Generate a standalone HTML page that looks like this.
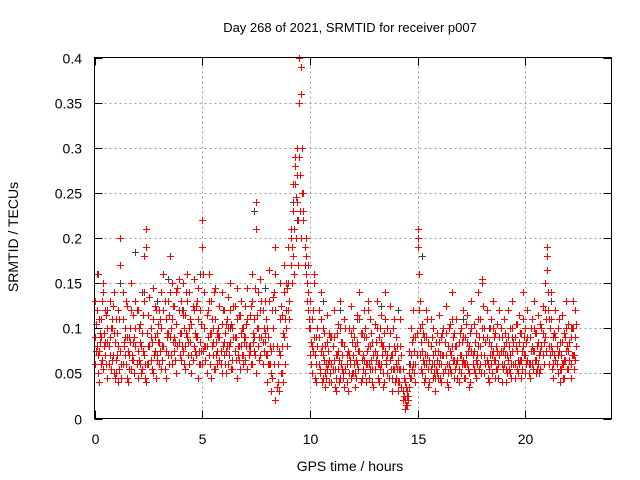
<!DOCTYPE html>
<html><head><meta charset="utf-8"><style>
body{margin:0;background:#fff;}
svg{display:block;font-family:"Liberation Sans",sans-serif;}
</style></head><body>
<svg id="chart" width="640" height="480" viewBox="0 0 640 480">
<rect width="640" height="480" fill="#fff"/>
<text x="350" y="32" font-size="13" text-anchor="middle">Day 268 of 2021, SRMTID for receiver p007</text>
<text x="350" y="471" font-size="14" text-anchor="middle">GPS time / hours</text>
<text transform="translate(18,237) rotate(-90)" font-size="14" text-anchor="middle">SRMTID / TECUs</text>
<g id="grid"></g>
<g id="ticks"></g>
<g id="marks"></g>
<rect x="94.5" y="57.5" width="517" height="361" fill="none" stroke="#000" stroke-width="1"/>
</svg>
<script>
const xTicks=[0,5,10,15,20];
const yTicks=[0,0.05,0.1,0.15,0.2,0.25,0.3,0.35,0.4];
const yTickLabels=["0","0.05","0.1","0.15","0.2","0.25","0.3","0.35","0.4"];
const startHour=0, stepHours=0.1, offsetHours=0.05;
// values in milli-TECU
const seriesMid=[90,120,75,60,140,85,100,70,110,95,65,80,200,110,70,90,55,120,85,100,75,60,95,130,210,80,65,110,90,70,85,100,120,75,95,140,110,90,105,120,95,115,80,130,100,70,120,90,110,85,220,100,80,130,95,70,110,60,90,105,85,75,100,120,65,90,110,80,95,70,90,110,80,130,75,240,100,120,85,95,70,130,50,100,160,40,110,80,140,120,150,170,230,280,300,400,360,250,180,140,100,80,150,60,90,110,70,50,85,65,60,90,45,75,100,55,80,40,70,95,70,50,85,110,65,90,60,120,80,55,75,100,60,85,50,110,70,95,45,80,60,40,80,30,20,15,50,70,90,60,210,100,75,60,90,55,80,70,45,65,85,60,70,95,50,75,110,65,80,55,70,90,60,85,50,100,75,65,110,80,150,70,90,55,80,100,65,75,90,60,80,55,90,70,100,60,75,85,65,110,70,90,60,80,100,65,85,75,95,120,190,80,110,60,90,70,55,85,65,100,75,60,100,90];
const seriesLow=[60,80,40,110,55,70,45,90,65,50,50,40,75,60,90,45,70,55,65,80,45,85,55,70,40,60,90,50,75,65,60,55,80,45,70,90,60,75,50,85,65,75,55,90,60,50,80,70,45,60,60,80,50,70,45,85,55,75,65,50,70,50,60,85,55,75,45,65,80,60,65,55,75,60,90,50,80,70,60,85,40,60,30,80,20,60,70,50,90,100,120,200,180,260,240,290,200,220,160,120,70,50,90,40,60,75,45,35,55,40,40,65,30,55,45,70,35,60,50,45,50,35,60,75,45,65,40,80,55,40,55,70,40,60,35,75,50,65,30,55,45,30,55,20,10,30,35,45,60,40,190,70,50,40,60,35,55,45,30,50,60,40,50,70,35,55,80,45,60,40,50,65,45,60,35,75,55,45,80,60,100,50,65,40,60,75,45,55,70,40,60,40,65,50,75,45,55,60,45,80,50,65,45,60,75,50,60,55,70,90,165,60,80,45,65,50,40,60,45,75,55,45,70,65];
const seriesHigh=[130,160,110,90,150,120,85,130,100,140,110,120,170,140,100,125,90,150,115,130,120,105,140,180,190,115,100,145,125,95,120,140,160,110,130,180,150,125,140,155,130,150,115,160,140,105,155,125,145,120,190,140,115,160,130,100,145,95,125,140,120,105,135,150,100,125,145,115,130,100,125,145,115,160,110,210,140,155,120,130,100,165,75,135,190,60,150,115,170,150,190,210,260,290,270,350,390,230,200,170,130,110,160,90,120,140,100,80,115,95,90,120,70,105,130,85,110,70,100,125,100,80,115,140,95,120,90,130,110,85,105,130,90,115,80,140,100,125,70,110,90,65,110,55,40,25,75,100,120,90,200,130,105,90,120,85,110,100,75,95,115,90,100,125,80,105,140,95,110,85,100,120,90,115,80,130,105,95,140,110,155,100,120,85,110,130,95,105,120,90,110,85,120,100,130,90,105,115,95,140,100,120,90,110,130,95,115,105,125,150,180,110,140,90,120,100,85,115,95,130,105,90,130,120];
const seriesMidB=[105,70,95,130,80,115,60,100,125,85,95,110,60,85,130,75,100,65,90,120,100,80,115,60,95,135,85,70,120,105,110,80,130,95,115,100,125,85,145,95,120,100,140,85,110,125,95,130,75,105,160,80,120,95,110,140,85,100,75,120,95,110,80,105,125,90,70,115,100,85,105,80,125,95,145,115,90,130,100,110,90,60,120,140,80,30,125,95,60,145,130,190,210,245,220,270,300,190,150,110,85,120,70,100,55,80,95,60,75,90,80,55,95,65,85,50,100,75,60,85,90,65,75,95,55,100,75,60,95,70,85,60,100,70,95,65,80,55,100,75,80,55,70,45,35,25,60,85,75,95,160,85,95,70,110,65,90,60,85,75,70,95,85,60,100,70,90,80,65,95,85,60,105,75,95,70,85,60,90,70,125,85,60,100,70,90,80,60,100,75,95,70,80,60,85,105,65,95,75,90,85,60,100,75,95,80,70,100,85,110,140,100,75,95,80,110,70,60,90,80,85,100,70,105];
const seriesLowB=[75,50,85,65,95,60,80,55,70,45,70,55,45,80,60,40,85,70,50,60,65,50,75,45,60,80,55,70,45,85,75,65,55,90,60,70,85,65,80,70,80,60,95,70,85,65,75,90,60,75,75,65,90,60,80,55,70,90,60,80,60,80,70,55,90,65,80,55,70,90,80,70,60,85,70,100,65,90,75,70,60,80,45,60,35,75,50,40,110,80,110,150,160,200,170,230,250,170,130,100,60,75,45,80,50,40,65,45,60,50,55,35,70,40,60,45,55,30,65,50,60,45,55,40,70,50,60,45,65,35,65,45,55,80,40,60,45,70,55,40,55,40,35,25,15,20,45,55,50,70,120,55,65,45,70,40,60,50,55,45,45,70,55,40,60,50,65,55,45,70,60,45,70,55,40,60,50,70,55,50,90,60,45,70,50,65,55,45,75,55,70,50,55,45,60,80,50,65,55,70,60,50,75,55,65,55,50,80,60,75,120,70,55,70,60,75,55,45,65,55,65,70,55,80];
const grayTimes=[0.15,0.6,1.2,1.9,2.3,2.9,3.4,4.1,4.9,5.6,6.3,7.4,7.9,8.4,9.2,9.4,10.6,11.4,12.2,13.3,14.1,14.6,15.2,16.4,17.1,18.3,19.4,20.3,21.2,22.1];
const grayValues=[160,120,150,185,140,130,155,120,160,110,100,230,145,120,240,220,130,120,110,125,120,60,180,80,110,100,90,80,130,100];

const svg=document.getElementById('chart');
const NS='http://www.w3.org/2000/svg';
const X0=94.5,X1=611.5,Y0=418.5,Y1=57.5,XMAX=24,YMAX=0.4;
function xs(t){return X0+(t/XMAX)*(X1-X0);}
function ys(v){return Y0-(v/YMAX)*(Y0-Y1);}
function mk(tag,attrs,parent){const e=document.createElementNS(NS,tag);for(const k in attrs)e.setAttribute(k,attrs[k]);parent.appendChild(e);return e;}
const grid=document.getElementById('grid'),ticks=document.getElementById('ticks'),marks=document.getElementById('marks');
yTicks.forEach((v,i)=>{
  const y=Math.round(ys(v))+0.5;
  if(i>0&&i<yTicks.length-1){
    const g=mk('line',{x1:X0,x2:X1,y1:y,y2:y,stroke:'#a0a0a0','stroke-dasharray':'2,3'},grid);
    
    
  }
  mk('line',{x1:X0,x2:X0+8,y1:y,y2:y,stroke:'#000'},ticks);
  mk('line',{x1:X1,x2:X1-8,y1:y,y2:y,stroke:'#000'},ticks);
  const t=mk('text',{x:82,y:y+5,'font-size':14,'text-anchor':'end'},ticks);
  t.textContent=yTickLabels[i];
  
  
});
xTicks.forEach((h,i)=>{
  const x=Math.round(xs(h))+0.5;
  if(i>0){
    const g=mk('line',{x1:x,x2:x,y1:Y0,y2:Y1,stroke:'#a0a0a0','stroke-dasharray':'2,3'},grid);
    
    
  }
  mk('line',{x1:x,x2:x,y1:Y0,y2:Y0-8,stroke:'#000'},ticks);
  mk('line',{x1:x,x2:x,y1:Y1,y2:Y1+8,stroke:'#000'},ticks);
  const t=mk('text',{x:x,y:444,'font-size':14,'text-anchor':'middle'},ticks);
  t.textContent=String(h);
  
  
});
function plus(t,v,color){
  const x=Math.round(xs(t))+0.5,y=Math.round(ys(v))+0.5;
  const p=mk('path',{d:`M${x-3.5},${y}H${x+3.5}M${x},${y-3.5}V${y+3.5}`,stroke:color,'stroke-width':1,fill:'none'},marks);
  
  
}
grayTimes.forEach((t,i)=>plus(t,grayValues[i]/1000,'#404040'));
[seriesLow,seriesMid,seriesHigh].forEach(s=>s.forEach((v,i)=>plus(startHour+i*stepHours,v/1000,'#ff0000')));
[seriesLowB,seriesMidB].forEach(s=>s.forEach((v,i)=>plus(startHour+offsetHours+i*stepHours,v/1000,'#ff0000')));
</script>
</body></html>
